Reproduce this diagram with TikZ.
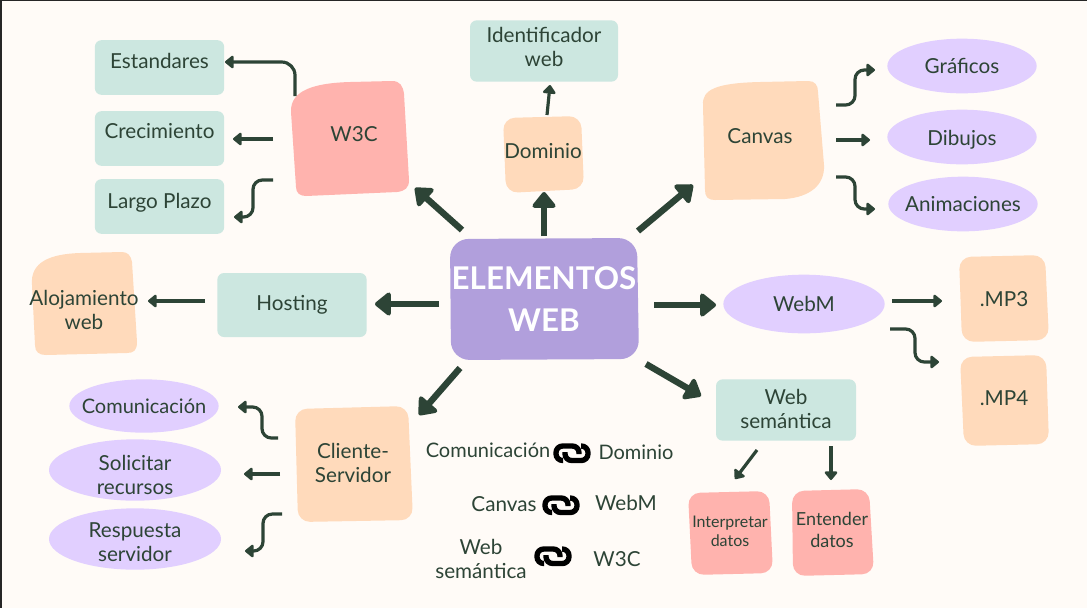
\documentclass[tikz,border=0pt]{standalone}
\usepackage{fontspec}
\setmainfont{Lato}
\usetikzlibrary{shapes.geometric,arrows.meta,calc}
\definecolor{paperc}{HTML}{FFFBF7}
\definecolor{inkc}{HTML}{2D4436}
\definecolor{mintc}{HTML}{CCE7E0}
\definecolor{peachc}{HTML}{FFDABB}
\definecolor{lilacc}{HTML}{E1CFFF}
\definecolor{salmonc}{HTML}{FFB3AE}
\definecolor{hubc}{HTML}{B19FDC}
\newcommand{\oneline}[2]{\raisebox{#1}[0pt][0pt]{#2}}
\newcommand{\twolines}[3]{\raisebox{\dimexpr#1-3.9pt}[0pt][0pt]{\begin{tabular}{@{}c@{}}#2\\#3\end{tabular}}}
\tikzset{
  every node/.style={text=inkc,align=center,font=\fontsize{15.5}{18}\selectfont},
  peachblob/.style={fill=peachc,rounded corners=9pt},
  salmonblob/.style={fill=salmonc,rounded corners=9pt},
  mintbox/.style={rectangle,fill=mintc,rounded corners=5pt,minimum width=97pt,minimum height=41pt},
  lilacoval/.style={ellipse,fill=lilacc,minimum width=112pt,minimum height=41pt,inner xsep=-30pt,inner ysep=-10pt},
  bigarrow/.style={inkc,line width=4.8pt,-{Triangle[length=13pt,width=20pt,round]}},
  smallarrow/.style={inkc,line width=2.4pt,rounded corners=7pt,-{Triangle[length=7pt,width=11pt,round]}},
  chainlink/.pic={
    \draw[black,line width=4pt,rounded corners=5pt] (-9,7.5) -- (-16,7.5) -- (-16,-7) -- (7,-7) -- (7,1);
    \draw[black,line width=4pt,rounded corners=5pt] (9,-7) -- (16,-7) -- (16,7.5) -- (-7,7.5) -- (-7,-1);
  }
}
\begin{document}
\begin{tikzpicture}[x=0.75pt,y=-0.75pt]
\useasboundingbox (0,0) rectangle (1087,608);
% Background
\fill[black!85] (0,0) rectangle (1087,608);
\fill[paperc] (2,1) rectangle (1087,608);

% Irregular shapes
\fill[hubc,rounded corners=14pt] (450,239) -- (637,238) -- (639,359) -- (451,360) -- cycle;
\fill[salmonc] (291,112) .. controls (290,90) and (315,83) .. (350,82) -- (392,81) .. controls (400,81) and (403,86) .. (404,94) -- (409,180) .. controls (409,188) and (405,191) .. (397,192) -- (306,196) .. controls (300,196) and (296,193) .. (296,187) -- cycle;
\fill[peachblob] (503,118) -- (581,116) -- (584,189) -- (506,193) -- cycle;
\fill[peachc] (703,105) .. controls (702,90) and (715,83) .. (760,82) -- (808,81) .. controls (815,81) and (818,85) .. (818,92) -- (824,165) .. controls (825,185) and (810,197) .. (785,199) -- (715,200) .. controls (708,200) and (705,197) .. (705,190) -- cycle;
\fill[peachc] (32,285) .. controls (30,262) and (50,254) .. (80,253) -- (122,252) .. controls (128,252) and (131,256) .. (132,262) -- (137,342) .. controls (137,350) and (134,353) .. (127,353) -- (46,355) .. controls (39,355) and (35,352) .. (35,345) -- cycle;
\fill[peachblob] (959,257) -- (1045,255) -- (1049,340) -- (962,342) -- cycle;
\fill[peachblob] (960,357) -- (1046,355) -- (1049,444) -- (964,446) -- cycle;
\fill[peachblob] (295,409) -- (408,406) -- (413,520) -- (298,522) -- cycle;
\fill[salmonblob] (688,493) -- (769,491) -- (773,573) -- (692,575) -- cycle;
\fill[salmonblob] (792,491) -- (869,489) -- (874,574) -- (793,576) -- cycle;

% Center
\node[text=white,font=\fontsize{23.5}{31}\selectfont\bfseries] (hub) at (544,299) {ELEMENTOS\\WEB};

% Top left
\node (w3c) at (354,134) {W3C};
\node[mintbox] (estandares) at (159.5,67.5) {\oneline{-0.7pt}{Estandares}};
\node[mintbox] (crecimiento) at (159.5,138.5) {\oneline{-0.1pt}{Crecimiento}};
\node[mintbox] (largo) at (159.5,206.5) {\oneline{-1.6pt}{Largo Plazo}};

% Top
\node (dominio) at (543,151) {Dominio};
\node[mintbox,minimum width=111pt,minimum height=46pt] (identificador) at (544,51) {\twolines{1.3pt}{Identificador}{web}};

% Top right
\node (canvas) at (760,136) {Canvas};
\node[lilacoval] (graficos) at (962,66) {Gráficos};
\node[lilacoval] (dibujos) at (962,137) {\oneline{-6.5pt}{Dibujos}};
\node[lilacoval] (animaciones) at (963,204) {Animaciones};

% Right
\node[lilacoval,minimum width=121pt,minimum height=44pt] (webm) at (804,304) {WebM};
\node (mpthree) at (1004,299) {.MP3};
\node (mpfour) at (1004,398) {.MP4};

% Bottom right
\node[mintbox,minimum width=105pt,minimum height=46pt] (websem) at (786,410) {\twolines{-0.7pt}{Web}{semántica}};
\node[font=\fontsize{12}{14}\selectfont] (interpretar) at (730,531) {Interpretar\\datos};
\node[font=\fontsize{13.5}{16}\selectfont] (entender) at (832,530) {Entender\\datos};

% Left
\node[mintbox,minimum width=112pt,minimum height=48pt] (hosting) at (292,305) {Hosting};
\node (alojamiento) at (84,310) {Alojamiento\\web};

% Bottom left
\node (cliente) at (353,463) {Cliente-\\Servidor};
\node[lilacoval,minimum height=40pt,font=\fontsize{15}{18}\selectfont] (comunicacion) at (144,406) {Comunicación};
\node[lilacoval,minimum width=129pt,minimum height=46pt] (solicitar) at (135,470) {\twolines{-5.7pt}{Solicitar}{recursos}};
\node[lilacoval,minimum width=129pt,minimum height=46pt] (respuesta) at (135,539) {\twolines{-3.7pt}{Respuesta}{servidor}};

% Related terms
\node[font=\fontsize{15}{18}\selectfont] (relcomunicacion) at (488,450) {Comunicación};
\node[font=\fontsize{15}{18}\selectfont] (reldominio) at (636,452) {Dominio};
\node (relcanvas) at (504,504) {Canvas};
\node (relwebm) at (626,503) {WebM};
\node (relsemantica) at (481,559) {Web\\semántica};
\node (relwtres) at (617,559) {W3C};
\pic at (572,453) {chainlink};
\pic at (561,505) {chainlink};
\pic at (553,556) {chainlink};

% Arrows from the center
\draw[bigarrow] ($(hub)+(-82,-69)$) -- ($(w3c)+(61,54)$);
\draw[bigarrow] ($(hub)+(0,-63)$) -- ($(dominio)+(1,41)$);
\draw[bigarrow] ($(hub)+(94,-68)$) -- ($(canvas)+(-67,49)$);
\draw[bigarrow] ($(hub)+(110,6)$) -- ($(webm)+(-88,1)$);
\draw[bigarrow] ($(hub)+(-105,5)$) -- ($(hosting)+(83,-1)$);
\draw[bigarrow] ($(hub)+(-84,69)$) -- ($(cliente)+(66,-48)$);
\draw[bigarrow] ($(hub)+(102,65)$) -- ($(websem)+(-85,-14)$);

% Arrows to the details
\draw[smallarrow] ($(dominio)+(4,-36)$) -- ($(identificador)+(6,34)$);
\draw[smallarrow,rounded corners=10pt] ($(w3c)+(-59,-38)$) |- ($(estandares)+(65.5,-5.5)$);
\draw[smallarrow] ($(w3c)+(-81,5)$) -- ($(crecimiento)+(73.5,0.5)$);
\draw[smallarrow] ($(w3c)+(-81,46)$) -- ++(-20,0) -- ++(0,37) -- ($(largo)+(74.5,10.5)$);
\draw[smallarrow] ($(hosting)+(-87,-4)$) -- ($(alojamiento)+(64,-9)$);
\draw[smallarrow] ($(canvas)+(76,-31)$) -- ++(19,0) -- ++(0,-35) -- ($(graficos)+(-87,4)$);
\draw[smallarrow] ($(canvas)+(76,4)$) -- ($(dibujos)+(-92,3)$);
\draw[smallarrow] ($(canvas)+(76,41)$) -- ++(19,0) -- ++(0,32) -- ($(animaciones)+(-88,5)$);
\draw[smallarrow] ($(webm)+(88,-3)$) -- ($(mpthree)+(-62,2)$);
\draw[smallarrow] ($(webm)+(86,25)$) -- ++(25,0) -- ++(0,33) -- ($(mpfour)+(-65,-36)$);
\draw[smallarrow] ($(websem)+(-29,40)$) -- ($(interpretar)+(5,-52)$);
\draw[smallarrow] ($(websem)+(45,36)$) -- ($(entender)+(-1,-50)$);
\draw[smallarrow] ($(cliente)+(-75,-25)$) -- ++(-16,0) -- ++(0,-31) -- ($(comunicacion)+(94,1)$);
\draw[smallarrow] ($(cliente)+(-73,11)$) -- ($(solicitar)+(109,4)$);
\draw[smallarrow] ($(cliente)+(-71,51)$) -- ++(-19,0) -- ++(0,37) -- ($(respuesta)+(110,12)$);
\end{tikzpicture}
\end{document}
